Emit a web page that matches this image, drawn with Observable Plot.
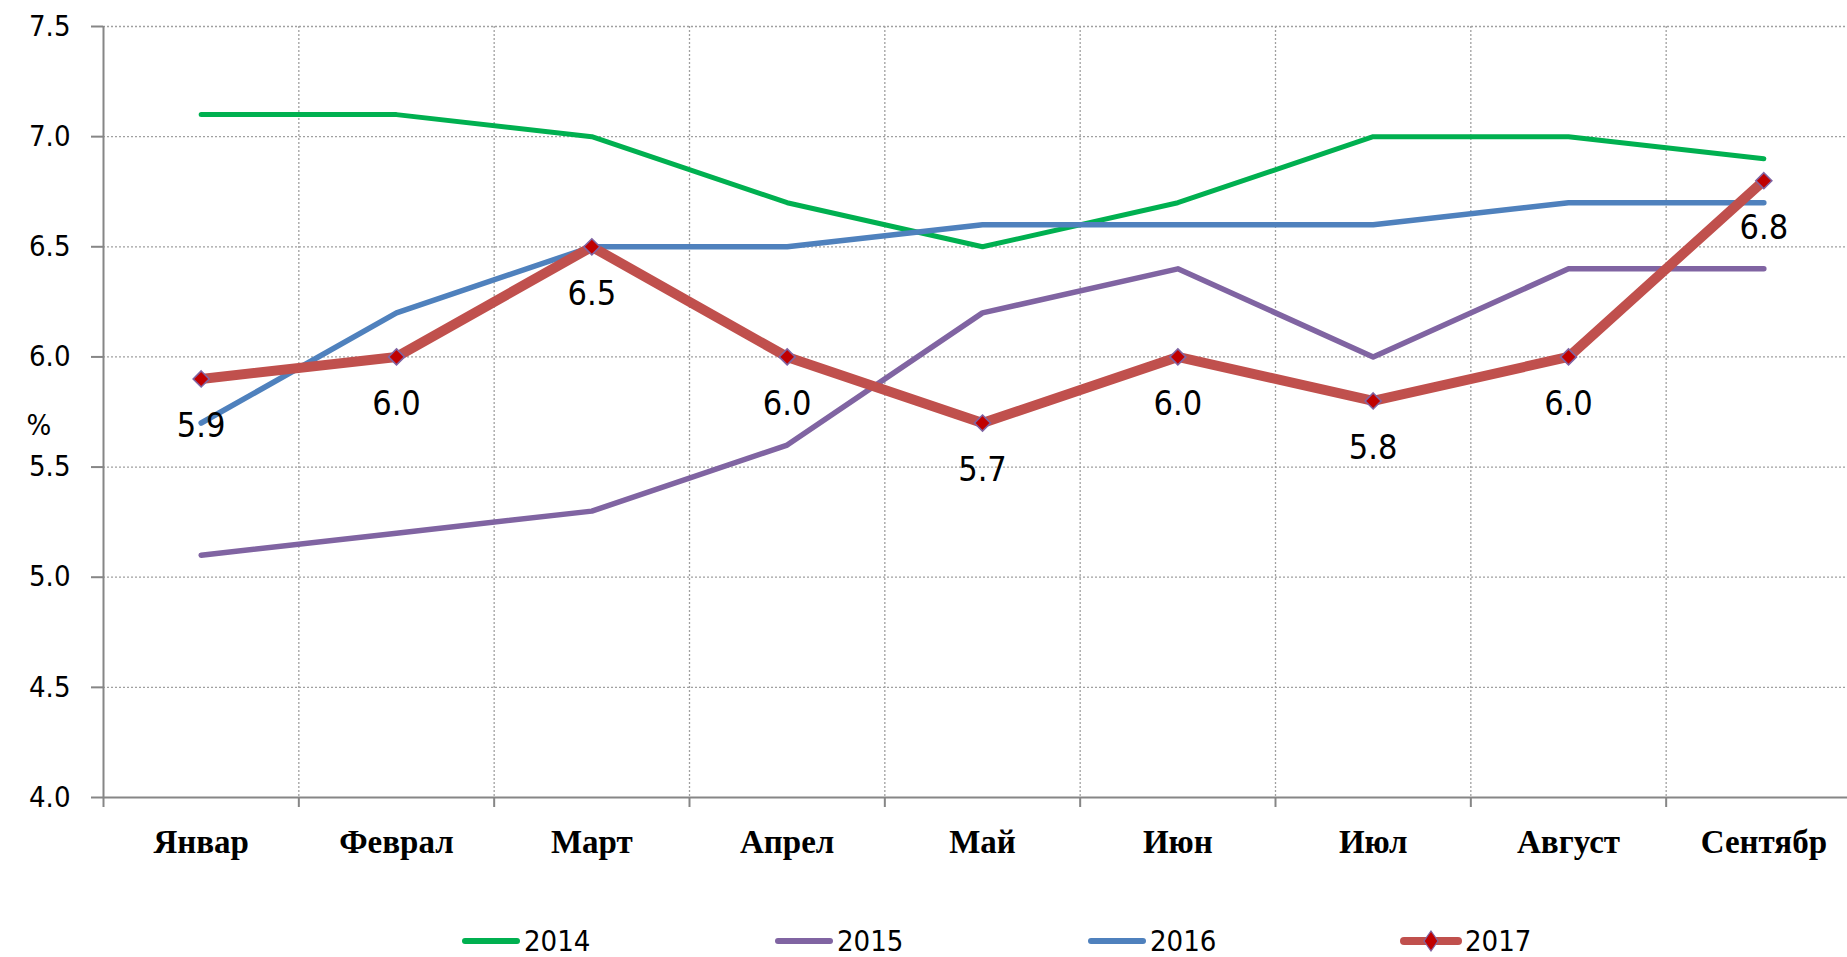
<!DOCTYPE html>
<html>
<head>
<meta charset="utf-8">
<script src="https://cdn.jsdelivr.net/npm/d3@7"></script>
<script src="https://cdn.jsdelivr.net/npm/@observablehq/plot@0.6"></script>
<style>
  html, body { margin: 0; padding: 0; background: #fff; overflow: hidden; width: 1847px; height: 957px; }
  #chart { width: 1861px; height: 900px; }
  #chart svg { display: block; max-width: none !important; width: 1861px !important; height: 900px !important; }
  #chart g[aria-label="x-axis tick label"] text { font-weight: bold; }
  #legend { display: flex; height: 30px; margin-top: 26px; padding-left: 461px; align-items: center;
            font-family: "Liberation Sans Narrow", "DejaVu Sans Condensed", "Liberation Sans", sans-serif; font-size: 29px; line-height: 26px; color: #000; }
  #legend .item { width: 313px; display: flex; align-items: center; }
  #legend svg { display: block; margin-right: 3px; }
</style>
</head>
<body>
<div id="chart"></div>
<div id="legend"></div>
<script>
// ---- data ----
const months = ["Январ", "Феврал", "Март", "Апрел", "Май", "Июн", "Июл", "Август", "Сентябр"];
const years = ["2014", "2015", "2016", "2017"];
const values2014 = [7.1, 7.1, 7.0, 6.7, 6.5, 6.7, 7.0, 7.0, 6.9];
const values2015 = [5.1, 5.2, 5.3, 5.6, 6.2, 6.4, 6.0, 6.4, 6.4];
const values2016 = [5.7, 6.2, 6.5, 6.5, 6.6, 6.6, 6.6, 6.7, 6.7];
const values2017 = [5.9, 6.0, 6.5, 6.0, 5.7, 6.0, 5.8, 6.0, 6.8];
const yTicks = [4.0, 4.5, 5.0, 5.5, 6.0, 6.5, 7.0, 7.5];
const yUnit = "%";

// ---- styles ----
const colors = {"2014": "#00B050", "2015": "#8064A2", "2016": "#4F81BD", "2017": "#C0504D"};
const widths = {"2014": 5, "2015": 5.5, "2016": 5.5, "2017": 10};
const markerFill = "#C00000", markerStroke = "#8064A2";
const axisGray = "#868686", gridGray = "#a0a0a0";
const numFont = "'Liberation Sans Narrow', 'DejaVu Sans Condensed', 'Liberation Sans', sans-serif";
const catFont = "'Liberation Serif', 'DejaVu Serif', serif";

const seriesValues = [values2014, values2015, values2016, values2017];
const rows = years.flatMap((yr, i) => months.map((m, j) => ({year: yr, idx: j, month: m, value: seriesValues[i][j]})));
const boundaries = d3.range(months.length + 1).map(i => i - 0.5);

const chart = Plot.plot({
  width: 1861,
  height: 900,
  marginLeft: 103,
  marginRight: 0,
  marginTop: 26,
  marginBottom: 103,
  style: {fontFamily: numFont, background: "#fff", overflow: "visible"},
  x: {domain: [-0.5, months.length - 0.5], label: null},
  y: {domain: [yTicks[0], yTicks[yTicks.length - 1]], label: null},
  marks: [
    Plot.gridY(yTicks.slice(1), {stroke: gridGray, strokeOpacity: 1, strokeWidth: 1.3, strokeDasharray: "2,2"}),
    Plot.gridX(boundaries.slice(1), {stroke: gridGray, strokeOpacity: 1, strokeWidth: 1.3, strokeDasharray: "2,2"}),
    Plot.axisY({ticks: yTicks, tickFormat: d => d.toFixed(1), tickSize: 12, tickPadding: 21, fontSize: 29,
                fontFamily: numFont, stroke: axisGray, strokeWidth: 2, fill: "#000", label: null}),
    Plot.axisX({ticks: boundaries, tickFormat: () => "", tickSize: 10, stroke: axisGray, strokeWidth: 2, label: null}),
    Plot.axisX({ticks: d3.range(months.length), tickFormat: i => months[i], tickSize: 0, tickPadding: 32,
                fontSize: 33, fontFamily: catFont, fontWeight: "bold", fill: "#000", label: null}),
    Plot.ruleY([yTicks[0]], {stroke: axisGray, strokeWidth: 2}),
    Plot.ruleX([boundaries[0]], {stroke: axisGray, strokeWidth: 2}),
    ...years.map(yr => Plot.line(rows.filter(d => d.year === yr), {
      x: "idx", y: "value", stroke: colors[yr], strokeWidth: widths[yr],
      strokeLinecap: "round", strokeLinejoin: "round"
    })),
    Plot.dot(rows.filter(d => d.year === "2017"), {
      x: "idx", y: "value", symbol: "diamond2", r: 7.2, fill: markerFill, stroke: markerStroke, strokeWidth: 1.6
    }),
    Plot.text(rows.filter(d => d.year === "2017"), {
      x: "idx", y: "value", text: d => d.value.toFixed(1), dy: 47, fontSize: 34, fontFamily: numFont, fill: "#000"
    }),
    Plot.text([yUnit], {frameAnchor: "left", dx: -77, dy: 14, fontSize: 29, fontFamily: numFont, fill: "#000"})
  ]
});
document.getElementById("chart").appendChild(chart);

// ---- legend ----
const legend = document.getElementById("legend");
years.forEach(yr => {
  const item = document.createElement("div");
  item.className = "item";
  const isMarker = yr === "2017";
  const sw = isMarker
    ? `<svg width="62" height="22"><line x1="4" y1="11" x2="58" y2="11" stroke="${colors[yr]}" stroke-width="8" stroke-linecap="round"/>` +
      `<path d="M31,1 L38,11 L31,21 L24,11 Z" fill="${markerFill}" stroke="${markerStroke}" stroke-width="1.2"/></svg>`
    : `<svg width="60" height="22"><line x1="4" y1="11" x2="56" y2="11" stroke="${colors[yr]}" stroke-width="6" stroke-linecap="round"/></svg>`;
  item.innerHTML = sw + `<span>${yr}</span>`;
  legend.appendChild(item);
});
</script>
</body>
</html>
